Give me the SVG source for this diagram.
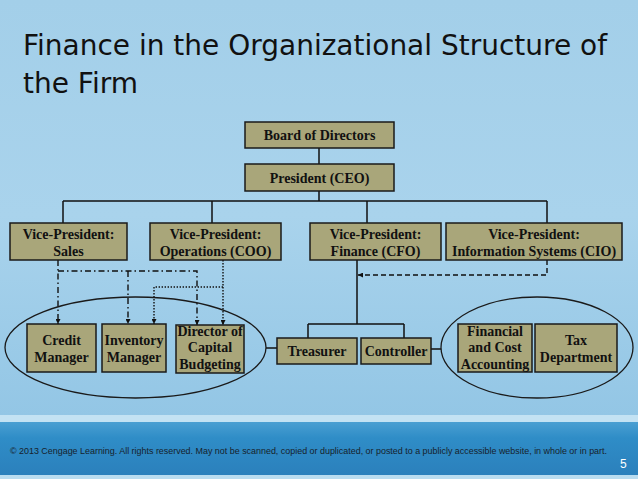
<svg xmlns="http://www.w3.org/2000/svg" width="638" height="479" viewBox="0 0 638 479">
<defs>
<linearGradient id="bg" x1="0" y1="0" x2="0" y2="1">
<stop offset="0" stop-color="#a3cfe9"/>
<stop offset="0.45" stop-color="#a9d3ec"/>
<stop offset="1" stop-color="#8cc2e3"/>
</linearGradient>
<linearGradient id="band" x1="0" y1="0" x2="0" y2="1">
<stop offset="0" stop-color="#4a9fd2"/>
<stop offset="0.3" stop-color="#2f8dc7"/>
<stop offset="1" stop-color="#2b80bc"/>
</linearGradient>
<marker id="ah" viewBox="0 0 6 6" refX="6" refY="3" markerWidth="5" markerHeight="5" markerUnits="userSpaceOnUse" orient="auto">
<path d="M0,0 L6,3 L0,6 z" fill="#111"/>
</marker>
</defs>
<style>
.box{fill:#a9a67a;stroke:#1a1a1a;stroke-width:1.5}
.t{font-family:"Liberation Serif","Times New Roman",serif;font-weight:bold;font-size:14px;fill:#111;text-anchor:middle}
.ln{fill:none;stroke:#111;stroke-width:1.5}
.dash{fill:none;stroke:#111;stroke-width:1.4;stroke-dasharray:5 3}
.dd{fill:none;stroke:#111;stroke-width:1.4;stroke-dasharray:6 3 1.5 3}
.dot{fill:none;stroke:#111;stroke-width:1.4;stroke-dasharray:1.4 1.6}
.ell{fill:none;stroke:#1a1a1a;stroke-width:1.3}
.title{font-family:"DejaVu Sans","Noto Sans",sans-serif;font-size:29px;fill:#111}
</style>
<rect x="0" y="0" width="638" height="479" fill="url(#bg)"/>
<rect x="0" y="415" width="638" height="7" fill="#c3e2f3"/>
<rect x="0" y="422" width="638" height="53" fill="url(#band)"/>
<rect x="0" y="475" width="638" height="4" fill="#b9dcf0"/>

<text class="title" x="23" y="55" textLength="584" lengthAdjust="spacingAndGlyphs">Finance in the Organizational Structure of</text>
<text class="title" x="23" y="93" textLength="115" lengthAdjust="spacingAndGlyphs">the Firm</text>

<g id="connectors">
<path class="ln" d="M319 148 V164"/>
<path class="ln" d="M319 191 V201 M63 201 H547 M63 201 V223 M212 201 V223 M367 201 V223 M547 201 V223"/>
<path class="ln" d="M357 260 V324 M308 324 H404 M308 324 V338 M404 324 V338"/>
<path class="ln" d="M266 348 H277"/>
<path class="ln" d="M431 349 H441"/>
<path class="dash" d="M547 260 V275 H358" marker-end="url(#ah)"/>
<path class="dd" d="M58 260 V324" marker-end="url(#ah)"/>
<path class="dd" d="M58 271 H197 V325" marker-end="url(#ah)"/>
<path class="dd" d="M128 271 V324" marker-end="url(#ah)"/>
<path class="dot" d="M223 260 V325" marker-end="url(#ah)"/>
<path class="dot" d="M223 287 H154 V324" marker-end="url(#ah)"/>
<ellipse class="ell" cx="135.5" cy="347.5" rx="130.5" ry="50.5"/>
<ellipse class="ell" cx="537" cy="347.5" rx="96" ry="50.5"/>
</g>

<g id="board"><rect class="box" x="245" y="122" width="149" height="26"/><text class="t" x="319.5" y="140">Board of Directors</text></g>
<g id="president"><rect class="box" x="245" y="164" width="149" height="27"/><text class="t" x="319.5" y="183">President (CEO)</text></g>

<g id="vp-sales"><rect class="box" x="10" y="223" width="117" height="37"/><text class="t" x="68.5" y="239">Vice-President:</text><text class="t" x="68.5" y="256">Sales</text></g>
<g id="vp-ops"><rect class="box" x="150" y="223" width="131" height="37"/><text class="t" x="215.5" y="239">Vice-President:</text><text class="t" x="215.5" y="256">Operations (COO)</text></g>
<g id="vp-finance"><rect class="box" x="310" y="223" width="131" height="37"/><text class="t" x="375.5" y="239">Vice-President:</text><text class="t" x="375.5" y="256">Finance (CFO)</text></g>
<g id="vp-is"><rect class="box" x="446" y="223" width="176" height="37"/><text class="t" x="534" y="239">Vice-President:</text><text class="t" x="534" y="256">Information Systems (CIO)</text></g>

<g id="credit"><rect class="box" x="27" y="324" width="69" height="48"/><text class="t" x="61.5" y="345">Credit</text><text class="t" x="61.5" y="362">Manager</text></g>
<g id="inventory"><rect class="box" x="102" y="324" width="64" height="48"/><text class="t" x="134" y="345">Inventory</text><text class="t" x="134" y="362">Manager</text></g>
<g id="capital"><rect class="box" x="176" y="325" width="68" height="48"/><text class="t" x="210" y="336">Director of</text><text class="t" x="210" y="352">Capital</text><text class="t" x="210" y="369">Budgeting</text></g>

<g id="treasurer"><rect class="box" x="277" y="338" width="80" height="26"/><text class="t" x="317" y="356">Treasurer</text></g>
<g id="controller"><rect class="box" x="361" y="338" width="70" height="26"/><text class="t" x="396" y="356">Controller</text></g>

<g id="accounting"><rect class="box" x="458" y="324" width="74" height="48"/><text class="t" x="495" y="336">Financial</text><text class="t" x="495" y="352">and Cost</text><text class="t" x="495" y="369">Accounting</text></g>
<g id="tax"><rect class="box" x="535" y="324" width="82" height="48"/><text class="t" x="576" y="345">Tax</text><text class="t" x="576" y="362">Department</text></g>

<text x="10" y="454" font-family="'Liberation Sans',Arial,sans-serif" font-size="8.6" fill="#17222c" textLength="597" lengthAdjust="spacingAndGlyphs">© 2013 Cengage Learning. All rights reserved. May not be scanned, copied or duplicated, or posted to a publicly accessible website, in whole or in part.</text>
<text x="620" y="468" font-family="'Liberation Sans',Arial,sans-serif" font-size="12" fill="#ffffff">5</text>
</svg>
